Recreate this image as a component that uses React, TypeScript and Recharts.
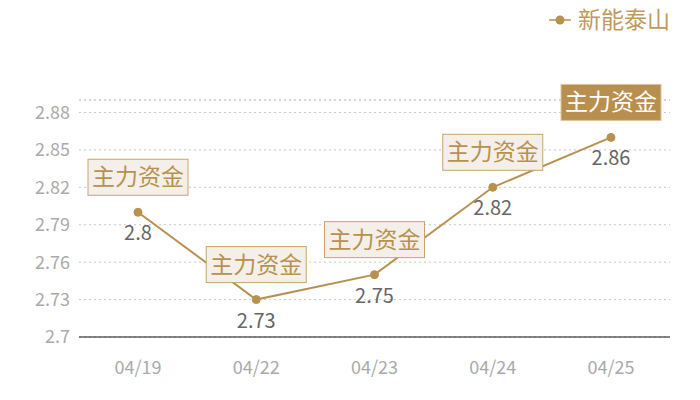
import React from 'react'
import {
  LineChart,
  Line,
  XAxis,
  YAxis,
  CartesianGrid,
  LabelList,
  ReferenceLine,
  Legend,
} from 'recharts'

const dates = ['04/19', '04/22', '04/23', '04/24', '04/25']
const prices = [2.8, 2.73, 2.75, 2.82, 2.86]
const tags = ['主力资金', '主力资金', '主力资金', '主力资金', '主力资金']
const highlighted = [false, false, false, false, true]
const yTicks = [2.7, 2.73, 2.76, 2.79, 2.82, 2.85, 2.88]
const seriesName = '新能泰山'

const GOLD = '#b8914f'
const FONT = '"Noto Sans CJK SC", "Noto Sans", sans-serif'

const data = dates.map((d, i) => ({
  date: d,
  price: prices[i],
  tag: tags[i],
  hot: highlighted[i],
}))

// box above the point + value below it
function PointLabel(props: any) {
  const { x, y, index, value } = props
  const hot = highlighted[index]
  const w = 100
  const h = 36
  return (
    <g>
      <rect
        x={x - w / 2}
        y={y - 53}
        width={w}
        height={h}
        fill={hot ? '#b88f4e' : '#f4efe8'}
        stroke={hot ? '#dcc59e' : '#c9a46c'}
        strokeWidth={1}
      />
      <text
        x={x}
        y={y - 27}
        textAnchor="middle"
        fontSize={23}
        fontFamily={FONT}
        fill={hot ? '#ffffff' : GOLD}
      >
        {tags[index]}
      </text>
      <text
        x={x}
        y={y + 28}
        textAnchor="middle"
        fontSize={20}
        fontFamily={FONT}
        fill="#666"
      >
        {value}
      </text>
    </g>
  )
}

function LegendBox() {
  return (
    <svg width={150} height={40} style={{ overflow: 'visible', display: 'block' }}>
      <line x1={3} y1={17} x2={25} y2={17} stroke={GOLD} strokeWidth={1.5} />
      <circle cx={14} cy={17} r={4.5} fill={GOLD} />
      <text x={32} y={25} fontSize={23} fontFamily={FONT} fill="#c09a5c">
        {seriesName}
      </text>
    </svg>
  )
}

export default function App() {
  return (
    <div style={{ position: 'absolute', left: 0, top: 0, width: 700, height: 400, background: '#fff' }}>
      <LineChart
        width={700}
        height={400}
        data={data}
        margin={{ top: 60, right: 30, left: 0, bottom: 23 }}
      >
        <CartesianGrid
          vertical={false}
          stroke="#c8c8c8"
          strokeDasharray="2 3"
        />
        <ReferenceLine y={2.89} stroke="#c8c8c8" strokeDasharray="2 3" />
        <XAxis
          dataKey="date"
          height={40}
          padding={{ left: 59, right: 59 }}
          tickLine={false}
          tickSize={0}
          tickMargin={24}
          axisLine={{ stroke: '#111', strokeWidth: 1 }}
          tick={{ fontSize: 18, fill: '#aaa', fontFamily: FONT }}
        />
        <YAxis
          width={79}
          domain={[2.7, 2.89]}
          ticks={yTicks}
          axisLine={false}
          tickLine={false}
          tickSize={0}
          tickMargin={9}
          tick={{ fontSize: 18, fill: '#aaa', fontFamily: FONT }}
        />
        <Legend
          verticalAlign="top"
          align="right"
          wrapperStyle={{ position: 'absolute', top: 3, right: 4, width: 150, left: 'auto' }}
          content={() => <LegendBox />}
        />
        <Line
          type="linear"
          dataKey="price"
          name={seriesName}
          stroke={GOLD}
          strokeWidth={2}
          dot={{ r: 4, fill: GOLD, stroke: GOLD, strokeWidth: 1 }}
          isAnimationActive={false}
        >
          <LabelList dataKey="price" content={<PointLabel />} />
        </Line>
      </LineChart>
    </div>
  )
}
